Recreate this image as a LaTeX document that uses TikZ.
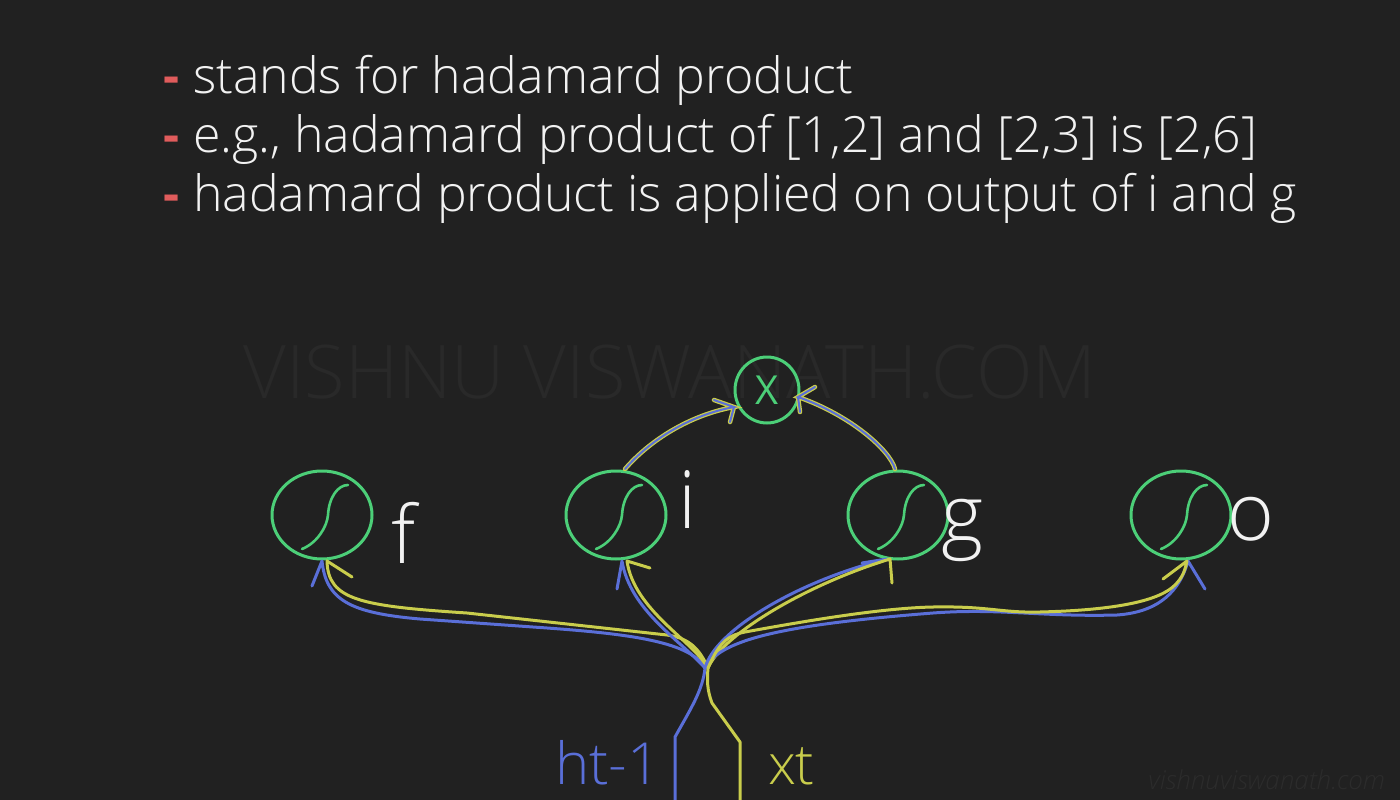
\documentclass[tikz,border=0pt]{standalone}
\usepackage{fontspec}
\setmainfont{Open Sans Light}
\newfontfamily\dashfont{Open Sans}
\newfontfamily\regfont{Open Sans}
\usetikzlibrary{shapes.geometric,calc}
\definecolor{bg}{HTML}{212121}
\definecolor{wm}{HTML}{292929}
\definecolor{wm2}{HTML}{2C2C2C}
\definecolor{dashred}{HTML}{E05C5C}
\definecolor{gr}{HTML}{4CCF78}
\definecolor{bl}{HTML}{5A6FD8}
\definecolor{ye}{HTML}{C9CD4C}
\definecolor{wh}{HTML}{F2F2F2}
\begin{document}
\begin{tikzpicture}[x=1pt,y=-1pt,
  every node/.style={inner sep=0pt,outer sep=0pt},
  line/.style={font=\fontsize{50}{59}\selectfont,text=wh,anchor=base west},
  dashmark/.style={font=\dashfont\bfseries\fontsize{50}{59}\selectfont,text=dashred,anchor=base west},
  gate/.style={ellipse,draw=gr,line width=3pt,minimum width=100pt,minimum height=88pt},
  sig/.style={draw=gr,line width=2.6pt,line cap=round},
  glabel/.style={text=wh,font=\fontsize{80}{80}\selectfont,anchor=base},
  bw/.style={draw=bl,line width=3pt,line cap=round,line join=round},
  yw/.style={draw=ye,line width=3pt,line cap=round,line join=round},
  arcY/.style={draw=ye,line width=4.5pt,line cap=round},
  arcB/.style={draw=bl,line width=2pt,line cap=round}]
\fill[bg] (0,0) rectangle (1400,800);
\useasboundingbox (0,0) rectangle (1400,800);
% watermarks
\node[text=wm,font=\fontsize{74}{74}\selectfont] (wmk) at (670,372) {VISHNU VISWANATH.COM};
\node[text=wm2,font=\itshape\fontsize{26}{26}\selectfont,anchor=base east] (wmk2) at (1385,789) {vishnuviswanath.com};
% text lines
\node[dashmark] (d1) at (163,93) {-};
\node[line] (t1) at (193,93) {stands for hadamard product};
\node[dashmark] (d2) at (163,152) {-};
\node[line] (t2) at (193,152) {e.g., hadamard product of [1,2] and [2,3] is [2,6]};
\node[dashmark] (d3) at (163,211) {-};
\node[line] (t3) at (193,211) {hadamard product is applied on output of i and g};
% gates
\node[gate] (f) at (322,515) {};
\node[gate] (i) at (616,515) {};
\node[gate] (g) at (898,515) {};
\node[gate] (o) at (1181,515) {};
\foreach \n in {f,i,g,o}{
  \draw[sig] ($(\n)+(-20,34)$) .. controls +(15,-6) and +(-1,12) .. ($(\n)+(6,0)$)
     .. controls +(1,-18) and +(-10,0) .. ($(\n)+(26,-30)$);
}
\node[ellipse,draw=gr,line width=3pt,minimum width=64pt,minimum height=66pt,text=gr,font=\regfont\fontsize{40}{40}\selectfont] (x) at (767,390) {X};
% labels
\node[glabel] (lf) at (403,563) {f};
\node[glabel] (li) at (688,528) {i};
\node[glabel] (lg) at (962,542) {g};
\node[glabel] (lo) at (1251,540) {o};
\node[text=bl,font=\fontsize{58}{58}\selectfont,anchor=base west] (lh) at (555,784) {ht-1};
\node[text=ye,font=\fontsize{56}{56}\selectfont,anchor=base west] (lxt) at (768,784) {xt};
% coordinates
\coordinate (hb) at (675,800);
\coordinate (hx) at (740,800);
\coordinate (hubB) at (705,668);
\coordinate (hubY) at (708,668);
% trunks
\draw[bw] (hb) -- (675,737) .. controls (690,710) and (703,690) .. (hubB);
\draw[yw] (hx) -- (740,742) -- (712,703) .. controls (707,690) and (707,680) .. (hubY);
% to f
\draw[bw] (hubB) .. controls (690,640) and (620,633) .. (533,627) -- (420,619)
   .. controls (350,613) and (326,600) .. ($(f.south)+(0,2)$) -- ($(f.south)+(-10,27)$);
\draw[yw] (hubY) .. controls (700,650) and (690,638) .. (667,635) -- (467,613)
   .. controls (360,606) and (328,600) .. ($(f.south)+(5,2)$) -- ($(f.south)+(30,18)$);
% to i
\draw[bw] (hubB) .. controls (680,640) and (630,610) .. ($(i.south)+(6,2)$) -- ($(i.south)+(1,30)$);
\draw[yw] (hubY) .. controls (692,640) and (634,610) .. ($(i.south)+(11,2)$) -- ($(i.south)+(34,9)$);
% to g
\draw[bw] (hubB) .. controls (715,630) and (800,580) .. ($(g.south)+(-11,0)$) -- ($(g.south)+(-36,4)$);
\draw[yw] (hubY) .. controls (722,635) and (805,585) .. ($(g.south)+(-8,0)$) -- ($(g.south)+(-6,24)$);
% to o
\draw[bw] (hubB) .. controls (720,640) and (780,625) .. (933,613)
   .. controls (1000,608) and (1040,617) .. (1117,615)
   .. controls (1160,612) and (1180,590) .. ($(o.south)+(7,2)$) -- ($(o.south)+(24,30)$);
\draw[yw] (hubY) .. controls (720,640) and (730,635) .. (745,632)
   .. controls (800,622) and (880,608) .. (933,607)
   .. controls (990,606) and (1000,613) .. (1040,612)
   .. controls (1120,610) and (1160,600) .. (1175,585)
   .. controls (1183,577) and (1185,570) .. ($(o.south)+(6,2)$) -- ($(o.south)+(-18,20)$);
% i -> x and g -> x
\foreach \s in {arcY,arcB}{
  \draw[\s] ($(i.north)+(9,-2)$) .. controls (650,440) and (690,415) .. ($(x.west)+(-1,17)$)
     -- ($(x.west)+(-21,10)$) ($(x.west)+(-1,17)$) -- ($(x.west)+(-5,32)$);
  \draw[\s] ($(g.north)+(-3,-2)$) .. controls (890,450) and (850,415) .. ($(x.east)+(-1,7)$)
     -- ($(x.east)+(16,-3)$) ($(x.east)+(-1,7)$) -- ($(x.east)+(1,22)$);
}
\end{tikzpicture}
\end{document}
